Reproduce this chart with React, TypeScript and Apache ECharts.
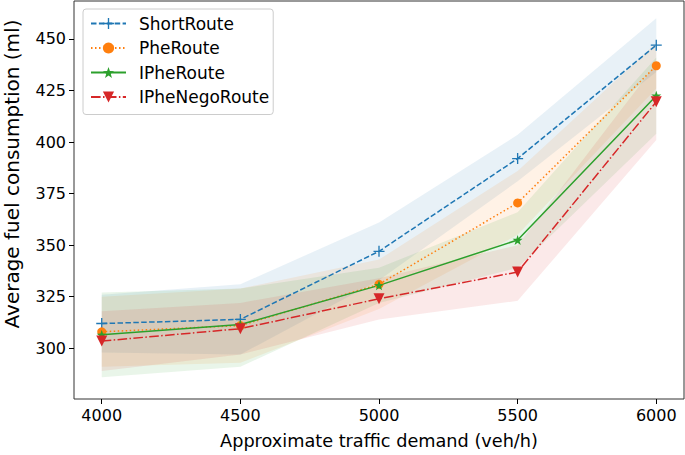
import React, { useEffect, useRef } from "react";
import * as echarts from "echarts";

const demand = [4000, 4500, 5000, 5500, 6000];
const xTicks = [4000, 4500, 5000, 5500, 6000];
const yTicks = [300, 325, 350, 375, 400, 425, 450];

const shortRoute = [312, 314, 347, 392, 447];
const pheRoute = [308, 311, 331, 370.5, 437];
const ipheRoute = [306.5, 311.5, 330.5, 352.5, 422.5];
const ipheNegoRoute = [303.5, 309.5, 324, 337, 419.5];

const shortUpper = [326, 331, 361, 403.5, 460];
const shortLower = [298, 297, 333, 381, 434];
const pheUpper = [325, 329, 343, 386, 448];
const pheLower = [291, 293, 319, 355, 426];
const ipheUpper = [327, 329, 339, 366, 441];
const ipheLower = [286, 291, 322, 339, 404];
const negoUpper = [318, 322, 334, 350, 438];
const negoLower = [289, 297, 314, 323, 401];

const names = ["ShortRoute", "PheRoute", "IPheRoute", "IPheNegoRoute"];
const colors = ["#1f77b4", "#ff7f0e", "#2ca02c", "#d62728"];
const xTitle = "Approximate traffic demand (veh/h)";
const yTitle = "Average fuel consumption (ml)";

const PLUS = "path://M4.4,0H5.6V10H4.4Z M0,4.4H10V5.6H0Z";
const STAR =
  "path://M10,0 L12.35,6.76 L19.51,6.91 L13.80,11.24 L15.88,18.09 L10,14 L4.12,18.09 L6.20,11.24 L0.49,6.91 L7.65,6.76 Z";

export default function App() {
  const ref = useRef<HTMLDivElement>(null);
  useEffect(() => {
    if (!ref.current) return;
    const chart = echarts.init(ref.current, null, { renderer: "svg" });
    const means = [shortRoute, pheRoute, ipheRoute, ipheNegoRoute];
    const bands = [
      { upper: shortUpper, lower: shortLower },
      { upper: pheUpper, lower: pheLower },
      { upper: ipheUpper, lower: ipheLower },
      { upper: negoUpper, lower: negoLower },
    ];
    const symbols = [PLUS, "circle", STAR, "triangle"];
    const symbolSizes = [11, 9, 10, 11];
    const dashes: any[] = [[5.5, 2.4], [1.5, 2.5], "solid", [9.6, 2.4, 1.5, 2.4]];
    const font = "DejaVu Sans";

    const lineSeries = means.map((m, i) => ({
      type: "line",
      name: names[i],
      data: demand.map((x, j) => [x, m[j]]),
      symbol: symbols[i],
      symbolSize: symbolSizes[i],
      symbolRotate: i === 3 ? 180 : 0,
      showSymbol: true,
      z: 5,
      itemStyle: { color: colors[i], borderWidth: 0 },
      lineStyle: { color: colors[i], width: 1.5, type: dashes[i] },
    }));

    const bandSeries = {
      type: "custom",
      name: "bands",
      coordinateSystem: "cartesian2d",
      silent: true,
      clip: true,
      z: 1,
      data: bands.map((b, i) => [demand[0], b.lower[0], i]),
      renderItem: (params: any, api: any) => {
        const b = bands[params.dataIndex];
        const pts: number[][] = [];
        demand.forEach((x, j) => pts.push(api.coord([x, b.upper[j]])));
        for (let j = demand.length - 1; j >= 0; j--) pts.push(api.coord([demand[j], b.lower[j]]));
        return {
          type: "polygon",
          shape: { points: pts },
          style: { fill: colors[params.dataIndex], opacity: 0.1 },
        };
      },
    };

    chart.setOption({
      animation: false,
      backgroundColor: "#ffffff",
      textStyle: { fontFamily: font },
      grid: {
        left: 74,
        right: 1,
        top: 1,
        bottom: 56,
        show: true,
        borderColor: "#333",
        borderWidth: 1,
        backgroundColor: "transparent",
      },
      graphic: [
        {
          type: "text",
          x: 12,
          y: 174,
          rotation: Math.PI / 2,
          style: {
            text: yTitle,
            font: "20px 'DejaVu Sans'",
            fill: "#000",
            align: "center",
            verticalAlign: "middle",
          },
        },
      ],
      legend: {
        data: names,
        orient: "vertical",
        left: 83,
        top: 9,
        padding: [6, 4, 9, 7],
        itemGap: 7.5,
        itemWidth: 35,
        itemHeight: 14,
        borderColor: "#cccccc",
        borderWidth: 1,
        borderRadius: 3,
        backgroundColor: "rgba(255,255,255,0.8)",
        textStyle: { fontFamily: font, fontSize: 17, color: "#000", lineHeight: 17, padding: [0, 0, 0, 8] },
      },
      xAxis: {
        type: "value",
        min: 3900,
        max: 6100,
        name: xTitle,
        nameLocation: "middle",
        nameGap: 33,
        nameTextStyle: { fontFamily: font, fontSize: 17.7, color: "#000" },
        splitLine: { show: false },
        axisLine: { show: false },
        axisTick: { show: true, customValues: xTicks, length: 5, lineStyle: { color: "#000", width: 1 } },
        axisLabel: {
          customValues: xTicks,
          fontFamily: font,
          fontSize: 16,
          color: "#000",
          margin: 8,
          formatter: (v: number) => String(v),
        },
      },
      yAxis: {
        type: "value",
        min: 275.4,
        max: 468.4,
        splitLine: { show: false },
        axisLine: { show: false },
        axisTick: { show: true, customValues: yTicks, length: 5, lineStyle: { color: "#000", width: 1 } },
        axisLabel: {
          customValues: yTicks,
          fontFamily: font,
          fontSize: 16,
          color: "#000",
          margin: 8,
          formatter: (v: number) => String(v),
        },
      },
      series: [bandSeries, ...lineSeries],
    });
    return () => chart.dispose();
  }, []);
  return (
    <div
      ref={ref}
      style={{ position: "fixed", left: 0, top: 0, width: 685, height: 455, background: "#fff" }}
    />
  );
}
